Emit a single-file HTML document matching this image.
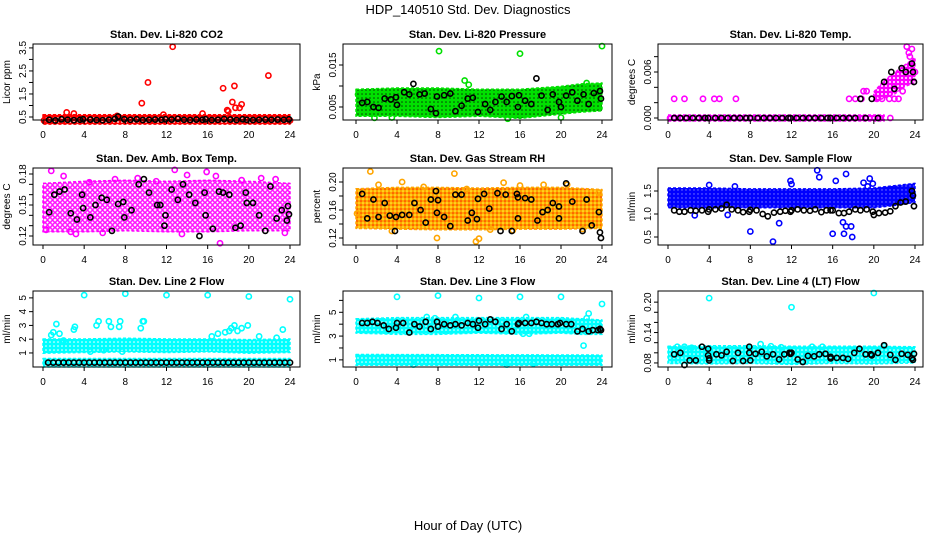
<!DOCTYPE html>
<html><head><meta charset="utf-8"><style>
body{margin:0;background:#fff}
svg{display:block;font-family:"Liberation Sans",Arial,sans-serif}
</style></head><body>
<svg id="c" width="936" height="540" viewBox="0 0 936 540">
<defs>
<pattern id="pat-co2" width="4" height="4" patternUnits="userSpaceOnUse"><rect width="4" height="4" fill="#ff0000"/><circle cx="2" cy="2" r="0.9" fill="#fff"/></pattern>
<pattern id="pat-pressure" width="4" height="4" patternUnits="userSpaceOnUse"><rect width="4" height="4" fill="#00e000"/><circle cx="2" cy="2" r="0.8" fill="#064006"/></pattern>
<pattern id="pat-li820-temp" width="4" height="4" patternUnits="userSpaceOnUse"><rect width="4" height="4" fill="#ff00ff"/><circle cx="2" cy="2" r="1" fill="#fff"/></pattern>
<pattern id="pat-amb-box-temp" width="5" height="5" patternUnits="userSpaceOnUse"><rect width="5" height="5" fill="#fff"/><circle cx="2.5" cy="2.5" r="1.8" fill="none" stroke="#ff00ff" stroke-width="1.4"/></pattern>
<pattern id="pat-gas-stream-rh" width="4" height="4" patternUnits="userSpaceOnUse"><rect width="4" height="4" fill="#ffa500"/><circle cx="1" cy="1" r="0.8" fill="#ff2000"/><circle cx="3" cy="3" r="0.8" fill="#ffff40"/></pattern>
<pattern id="pat-sample-flow" width="4" height="4" patternUnits="userSpaceOnUse"><rect width="4" height="4" fill="#0000ff"/><circle cx="2" cy="2" r="0.7" fill="#8080ff"/></pattern>
<pattern id="pat-line2-flow" width="4" height="4" patternUnits="userSpaceOnUse"><rect width="4" height="4" fill="#00ffff"/><circle cx="2" cy="2" r="0.8" fill="#fff"/></pattern>
<pattern id="pat-line3-flow" width="4" height="4" patternUnits="userSpaceOnUse"><rect width="4" height="4" fill="#00ffff"/><circle cx="2" cy="2" r="0.8" fill="#fff"/></pattern>
<pattern id="pat-line4-flow" width="4" height="4" patternUnits="userSpaceOnUse"><rect width="4" height="4" fill="#00ffff"/><circle cx="2" cy="2" r="0.8" fill="#fff"/></pattern>
</defs>
<text x="468" y="14" text-anchor="middle" font-size="13">HDP_140510  Std. Dev. Diagnostics</text>
<text x="468" y="530" text-anchor="middle" font-size="13">Hour of Day (UTC)</text>
</svg>
<script>
const xTicks=[0,4,8,12,16,20,24];
// Panel 1: CO2
const co2BandX=[0,24], co2BandLo=[0.32,0.32], co2BandHi=[0.47,0.47];
const co2PtsX=[2.3,3,9.6,10.2,11.7,12.6,15.5,17.5,18.4,18.6,18.7,19.1,19.3,17.9,18,21.9,7.2,0.1,24];
const co2PtsY=[0.7,0.65,1.1,2.0,0.6,3.55,0.65,1.75,1.15,1.85,0.9,0.9,1.05,0.8,0.75,2.3,0.55,0.35,0.35];
const co2BlkX=[0.6,1.2,1.8,2.4,3,3.6,3.9,4.6,5.2,5.8,6.4,7,7.3,7.9,8.5,9.1,9.7,10.3,10.9,11.5,11.9,12.5,13.1,13.7,14.3,14.9,15.5,15.8,16.4,17,17.6,18.2,18.8,19.4,19.8,20.4,21,21.6,22.2,22.8,23.4,23.9];
const co2BlkY=[0.38,0.35,0.4,0.38,0.36,0.38,0.4,0.39,0.37,0.36,0.38,0.42,0.52,0.4,0.38,0.4,0.37,0.38,0.39,0.38,0.4,0.39,0.42,0.38,0.37,0.39,0.38,0.4,0.37,0.38,0.41,0.39,0.37,0.4,0.38,0.37,0.38,0.39,0.38,0.39,0.38,0.4];
// Panel 2: Pressure
const prBandX=[0,4,8,12,16,20,22,24], prBandLo=[0.0035,0.0035,0.0032,0.0035,0.003,0.004,0.0045,0.0048], prBandHi=[0.0085,0.0088,0.0088,0.0085,0.0085,0.0092,0.0098,0.0100];
const prPtsX=[8.1,16,24,10.6,11,22.5,1.8,3.5,20,14.8,0.2,23.6];
const prPtsY=[0.0183,0.0177,0.0195,0.0113,0.0103,0.0107,0.0024,0.0025,0.0025,0.0022,0.008,0.0052];
const prBlkX=[0.6,1.1,1.7,2.2,2.8,3.4,3.9,4,4.7,5.2,5.6,6.2,6.7,7.3,7.8,7.9,8.6,9.2,9.7,10.3,10.9,11.4,11.9,12.6,13.1,13.6,14.2,14.7,15.2,15.8,15.9,16.5,17.1,17.6,18.1,18.7,19.2,19.8,20,20.5,21.1,21.6,22.2,22.7,23.2,23.8,23.9];
const prBlkY=[0.006,0.0062,0.005,0.0048,0.007,0.0068,0.0073,0.0055,0.0085,0.008,0.0105,0.008,0.0082,0.0045,0.0035,0.0075,0.0078,0.0082,0.004,0.0053,0.007,0.0072,0.0038,0.0057,0.0043,0.0062,0.0075,0.0062,0.0076,0.005,0.0078,0.0065,0.0057,0.0118,0.0077,0.0043,0.008,0.0062,0.005,0.0077,0.0085,0.0065,0.008,0.0057,0.0083,0.0088,0.007];
// Panel 3: Li-820 Temp
const tBandX=[20,21,22,23,24], tBandLo=[0.0025,0.003,0.0035,0.0045,0.005], tBandHi=[0.003,0.0045,0.0055,0.0065,0.0075];
const tPtsX=[0.6,1.6,3.4,4.5,5,6.6,17.6,18.2,18.8,19,19.3,20.3,20.8,21.5,22,22.4,22.8,23.2,23.4,23.7,23.5,24,21.6,0.2,5,10,15,20.6];
const tPtsY=[0.0025,0.0025,0.0025,0.0025,0.0025,0.0025,0.0025,0.0025,0.0025,0.0035,0.0035,0.0025,0.0025,0.0025,0.0025,0.0025,0.0035,0.0093,0.0085,0.009,0.008,0.006,0,0,0,0,0,0];
const tBlkX=[0.6,1.2,1.8,2.4,3,3.6,3.9,4.6,5.2,5.8,6.4,7,7.6,8,8.7,9.3,9.9,10.5,11.1,11.7,11.9,12.5,13.1,13.7,14.3,14.9,15.5,15.8,16.4,17,17.6,18.2,18.7,19.2,19.8,20.4,21,21.7,22,22.7,23.1,23.7,23.8,23.9];
const tBlkY=[0,0,0,0,0,0,0,0,0,0,0,0,0,0,0,0,0,0,0,0,0,0,0,0,0,0,0,0,0,0,0,0,0.0025,0,0.0025,0,0.0047,0.006,0.0038,0.0065,0.006,0.0071,0.006,0.0047];
// Panel 4: Amb Box Temp
const abBandX=[0,4,8,12,16,20,24], abBandLo=[0.127,0.127,0.128,0.127,0.127,0.128,0.128], abBandHi=[0.168,0.17,0.171,0.17,0.171,0.17,0.168];
const abPtsX=[0.8,2.7,5.8,12.8,15.9,17.2,16.8,9.2,2,22.6,0.3,4.5,7,11,13.5,19.3,21.2,23.5,3.2,14];
const abPtsY=[0.183,0.124,0.123,0.184,0.182,0.113,0.178,0.176,0.178,0.175,0.126,0.172,0.175,0.173,0.122,0.174,0.176,0.123,0.122,0.179];
const abBlkX=[0.6,1.1,1.6,2.1,2.7,3.3,3.8,3.9,4.6,5.1,5.7,6.2,6.7,7.3,7.8,7.9,8.6,9.3,9.8,10.3,11.1,11.4,11.8,11.9,12.5,13.1,13.6,14.2,14.8,15.2,15.7,15.8,16.5,17.1,17.5,18.1,18.7,19.2,19.7,19.8,20.4,21,21.6,22.1,22.7,23.2,23.7,23.8,23.9];
const abBlkY=[0.143,0.16,0.163,0.165,0.142,0.136,0.16,0.147,0.138,0.15,0.157,0.155,0.125,0.151,0.153,0.138,0.145,0.17,0.175,0.162,0.15,0.15,0.13,0.14,0.165,0.155,0.17,0.16,0.152,0.12,0.162,0.14,0.127,0.163,0.162,0.16,0.128,0.13,0.162,0.152,0.152,0.14,0.125,0.168,0.137,0.145,0.135,0.149,0.141];
// Panel 5: Gas Stream RH
const rhBandX=[0,4,8,12,16,20,24], rhBandLo=[0.138,0.137,0.136,0.136,0.137,0.137,0.138], rhBandHi=[0.186,0.188,0.188,0.187,0.188,0.188,0.185];
const rhPtsX=[1.4,9.6,7.9,11.7,12,14.4,4.5,2.2,6.6,10.8,16,18.3,20.6,23.7,0.1,3.5,13.1,22.1,15.3];
const rhPtsY=[0.215,0.212,0.12,0.115,0.119,0.199,0.2,0.196,0.193,0.19,0.195,0.196,0.196,0.185,0.155,0.13,0.132,0.133,0.131];
const rhBlkX=[0.6,1.1,1.7,2.2,2.8,3.3,3.8,3.9,4.5,5.2,5.7,6.3,6.8,7.3,7.8,7.9,8,8.6,9.2,9.7,10.3,10.9,11.3,11.8,11.9,12.5,13,13.8,14.1,14.6,15.2,15.7,15.8,15.8,16.5,17.1,17.7,18.2,18.7,19.2,19.8,19.8,20.5,21.1,22.1,22.5,23,23.7,23.8,23.9];
const rhBlkY=[0.183,0.148,0.175,0.15,0.17,0.152,0.13,0.15,0.153,0.153,0.17,0.16,0.142,0.175,0.187,0.156,0.174,0.15,0.137,0.182,0.182,0.145,0.156,0.147,0.176,0.183,0.162,0.184,0.13,0.182,0.13,0.183,0.148,0.178,0.177,0.175,0.145,0.157,0.16,0.17,0.165,0.148,0.198,0.172,0.13,0.175,0.138,0.157,0.128,0.12];
// Panel 6: Sample Flow
const sfBandX=[0,4,8,12,16,20,22,24], sfBandLo=[1.2,1.2,1.2,1.2,1.2,1.2,1.25,1.32], sfBandHi=[1.5,1.5,1.48,1.48,1.48,1.5,1.55,1.6];
const sfPtsX=[14.5,14.7,17.3,19.6,16.3,11.9,4,8,10.2,10.8,16,17,17.3,17.1,17.8,17.9,2.6,5.8,12,19,19.4,19.9,6.5];
const sfPtsY=[1.95,1.8,1.87,1.77,1.72,1.72,1.63,0.62,0.4,0.8,0.57,0.82,0.73,0.57,0.73,0.5,0.97,0.98,1.65,1.68,1.6,1.66,1.6];
const sfBlkX=[0.6,1.1,1.6,2.2,2.7,3.3,3.9,4,4.6,5.2,5.7,6.2,6.8,7.3,7.9,8,8.6,9.2,9.7,10.3,10.9,11.4,11.9,12,12.6,13.2,13.8,14.3,14.9,15.4,15.8,16,16.6,17.1,17.6,18.2,18.7,19.3,19.9,20,20.5,21.1,21.6,22.1,22.6,23.1,23.7,23.8,23.9];
const sfBlkY=[1.08,1.05,1.05,1.08,1.07,1.08,1.05,1.1,1.1,1.12,1.2,1.1,1.08,1.04,1.05,1.09,1.08,1.0,0.95,1.03,1.05,1.07,1.05,1.08,1.1,1.08,1.07,1.1,1.04,1.08,1.08,1.08,1.02,1.02,1.05,1.1,1.08,1.1,1.05,0.98,1.02,1.03,1.06,1.17,1.25,1.27,1.5,1.4,1.17];
// Panel 7: Line 2 Flow
const l2BandX=[0,4,8,12,16,20,24], l2BandLo=[1.2,1.25,1.3,1.25,1.3,1.2,1.25], l2BandHi=[1.8,1.8,1.85,1.8,1.8,1.75,1.8];
const l2Band2X=[0,24], l2Band2Lo=[0.2,0.2], l2Band2Hi=[0.38,0.38];
const l2PtsX=[4,8,12,16,20,24,0.8,1,1.3,1.6,3,3.1,5.2,5.4,6.4,6.6,7.4,7.5,9.5,9.7,9.8,16.4,17,17.7,18.1,18.3,18.6,18.9,19.3,19.9,21,22.7,23.3,2,5.9,7.7,4.6];
const l2PtsY=[5.2,5.3,5.2,5.2,5.1,4.9,2.3,2.5,3.1,2.4,2.7,2.9,3,3.3,3.3,2.9,2.9,3.3,2.8,3.3,3.3,2.2,2.4,2.5,2.6,2.8,3,2.6,2.8,3,2.2,2.1,2.7,1.9,1.2,1.1,1.1];
const l2BlkX=[0.5,1,1.5,2,2.5,3,3.5,4,4.5,5,5.5,6,6.5,7,7.5,8,8.5,9,9.5,10,10.5,11,11.5,12,12.5,13,13.5,14,14.5,15,15.5,16,16.5,17,17.5,18,18.5,19,19.5,20,20.5,21,21.5,22,22.5,23,23.5,24];
const l2BlkY=[0.3,0.3,0.3,0.3,0.3,0.3,0.3,0.3,0.3,0.3,0.3,0.3,0.3,0.3,0.3,0.3,0.3,0.3,0.3,0.3,0.3,0.3,0.3,0.3,0.3,0.3,0.3,0.3,0.3,0.3,0.3,0.3,0.3,0.3,0.3,0.3,0.3,0.3,0.3,0.3,0.3,0.3,0.3,0.3,0.3,0.3,0.3,0.3];
// Panel 8: Line 3 Flow
const l3BandX=[0,4,8,12,16,20,22,24], l3BandLo=[3.5,3.4,3.4,3.5,3.4,3.5,3.4,3.4], l3BandHi=[4.2,4.3,4.3,4.3,4.3,4.3,4.2,4.1];
const l3Band2X=[0,24], l3Band2Lo=[0.8,0.8], l3Band2Hi=[1.2,1.15];
const l3PtsX=[4,8,12,16,20,24,22.2,22.5,22.7,6.9,7.7,9.7,16.6,16.9,16.3,5.6,14.7,17.3];
const l3PtsY=[6.3,6.4,6.2,6.3,6.3,5.7,2.2,4.5,4.9,4.6,4.5,4.6,4.6,3.2,3.2,0.6,0.6,0.7];
const l3BlkX=[0.6,1.1,1.6,2.1,2.7,3.2,3.9,4,4.6,5.2,5.7,6.2,6.8,7.3,7.9,8,8.6,9.2,9.7,10.3,10.9,11.4,11.9,12,12.6,13.1,13.6,14.2,14.7,15.2,15.8,15.9,16.5,17.1,17.6,18.1,18.6,19.1,19.7,19.9,20.5,21,21.6,22.1,22.7,23.1,23.6,23.8,23.9];
const l3BlkY=[4.1,4.1,4.2,4.1,3.9,3.6,3.7,4.1,4.1,3.3,4,3.8,4.2,3.6,4.2,3.8,4,3.9,4,3.9,4.1,4,3.7,4.3,4,4.4,4.2,3.6,4,3.4,4,4.1,4.1,4.1,4.2,4.1,4,4,4,4.1,4,4,3.4,3.6,3.4,3.5,3.5,3.6,3.5];
// Panel 9: Line 4 (LT) Flow
const l4BandX=[0,4,8,12,16,20,24], l4BandLo=[0.085,0.084,0.085,0.083,0.085,0.084,0.086], l4BandHi=[0.107,0.108,0.108,0.107,0.107,0.107,0.106];
const l4PtsX=[4,12,20,0.9,1.6,2.3,9,10,11,14,15,21];
const l4PtsY=[0.208,0.19,0.218,0.112,0.112,0.11,0.117,0.113,0.111,0.112,0.112,0.113];
const l4BlkX=[0.6,1.2,1.6,2.1,2.7,3.3,3.9,3.9,4,4,4.7,5.2,5.7,6.3,6.8,7.3,7.9,7.9,8,8.5,9.1,9.6,10.2,10.8,11.3,11.8,11.9,12,12.6,13.1,13.6,14.2,14.7,15.3,15.8,15.8,16.4,17,17.5,18.1,18.6,19.2,19.7,19.8,20.4,21,21.6,22.1,22.7,23.3,23.7,23.8,23.9];
const l4BlkY=[0.097,0.1,0.076,0.085,0.085,0.112,0.108,0.095,0.089,0.085,0.097,0.095,0.102,0.084,0.1,0.084,0.112,0.1,0.085,0.098,0.102,0.093,0.097,0.087,0.097,0.1,0.098,0.1,0.087,0.082,0.094,0.093,0.097,0.098,0.092,0.089,0.09,0.09,0.088,0.1,0.108,0.097,0.097,0.095,0.1,0.115,0.096,0.086,0.098,0.096,0.089,0.086,0.098];

const cols=[{bx0:33,bx1:300,x0:43,x24:290},{bx0:343,bx1:612,x0:356,x24:602},{bx0:658,bx1:923,x0:668,x24:915}];
const rows=[{by0:44,by1:120},{by0:168,by1:245},{by0:291,by1:367}];

const panels=[
 {name:'co2',title:'Stan. Dev. Li-820 CO2',ylab:'Licor ppm',col:'#ff0000',dom:[0.37,3.67],ticks:[0.5,1,1.5,2,2.5,3,3.5],labs:['0.5','1.5','2.5','3.5'],labVals:[0.5,1.5,2.5,3.5],bands:[[co2BandX,co2BandLo,co2BandHi]],px:co2PtsX,py:co2PtsY,kx:co2BlkX,ky:co2BlkY},
 {name:'pressure',title:'Stan. Dev. Li-820 Pressure',ylab:'kPa',col:'#00e000',dom:[0.0019,0.0200],ticks:[0.005,0.01,0.015],labs:['0.005','0.015'],labVals:[0.005,0.015],bands:[[prBandX,prBandLo,prBandHi]],px:prPtsX,py:prPtsY,kx:prBlkX,ky:prBlkY},
 {name:'li820-temp',title:'Stan. Dev. Li-820 Temp.',ylab:'degrees C',col:'#ff00ff',dom:[-0.00026,0.00965],ticks:[0,0.002,0.004,0.006,0.008],labs:['0.000','0.006'],labVals:[0,0.006],bands:[[tBandX,tBandLo,tBandHi],[[0,21],[0,0],[0,0]]],px:tPtsX,py:tPtsY,kx:tBlkX,ky:tBlkY},
 {name:'amb-box-temp',title:'Stan. Dev. Amb. Box Temp.',ylab:'degrees C',col:'#ff00ff',dom:[0.1113,0.1858],ticks:[0.12,0.13,0.14,0.15,0.16,0.17,0.18],labs:['0.12','0.15','0.18'],labVals:[0.12,0.15,0.18],bands:[[abBandX,abBandLo,abBandHi]],px:abPtsX,py:abPtsY,kx:abBlkX,ky:abBlkY},
 {name:'gas-stream-rh',title:'Stan. Dev. Gas Stream RH',ylab:'percent',col:'#ffa500',dom:[0.11,0.22],ticks:[0.12,0.14,0.16,0.18,0.2],labs:['0.12','0.16','0.20'],labVals:[0.12,0.16,0.2],bands:[[rhBandX,rhBandLo,rhBandHi]],px:rhPtsX,py:rhPtsY,kx:rhBlkX,ky:rhBlkY},
 {name:'sample-flow',title:'Stan. Dev. Sample Flow',ylab:'ml/min',col:'#0000ff',dom:[0.326,2.0],ticks:[0.5,1,1.5],labs:['0.5','1.0','1.5'],labVals:[0.5,1,1.5],bands:[[sfBandX,sfBandLo,sfBandHi]],px:sfPtsX,py:sfPtsY,kx:sfBlkX,ky:sfBlkY},
 {name:'line2-flow',title:'Stan. Dev. Line 2 Flow',ylab:'ml/min',col:'#00ffff',dom:[-0.02,5.5],ticks:[1,2,3,4,5],labs:['1','2','3','4','5'],labVals:[1,2,3,4,5],bands:[[l2BandX,l2BandLo,l2BandHi],[l2Band2X,l2Band2Lo,l2Band2Hi]],px:l2PtsX,py:l2PtsY,kx:l2BlkX,ky:l2BlkY},
 {name:'line3-flow',title:'Stan. Dev. Line 3 Flow',ylab:'ml/min',col:'#00ffff',dom:[0.4,6.79],ticks:[1,2,3,4,5,6],labs:['1','3','5'],labVals:[1,3,5],bands:[[l3BandX,l3BandLo,l3BandHi],[l3Band2X,l3Band2Lo,l3Band2Hi]],px:l3PtsX,py:l3PtsY,kx:l3BlkX,ky:l3BlkY},
 {name:'line4-flow',title:'Stan. Dev. Line 4 (LT) Flow',ylab:'ml/min',col:'#00ffff',dom:[0.072,0.222],ticks:[0.08,0.1,0.12,0.14,0.16,0.18,0.2],labs:['0.08','0.14','0.20'],labVals:[0.08,0.14,0.2],bands:[[l4BandX,l4BandLo,l4BandHi]],px:l4PtsX,py:l4PtsY,kx:l4BlkX,ky:l4BlkY}
];

const NS='http://www.w3.org/2000/svg';
const svg=document.getElementById('c');
function mk(tag,attrs,parent){const e=document.createElementNS(NS,tag);for(const k in attrs)e.setAttribute(k,attrs[k]);(parent||svg).appendChild(e);return e;}

panels.forEach((p,i)=>{
 const c=cols[i%3], r=rows[Math.floor(i/3)];
 const xs=v=>c.x0+(c.x24-c.x0)*v/24;
 const ys=v=>r.by1-(r.by1-r.by0)*(v-p.dom[0])/(p.dom[1]-p.dom[0]);
 const g=mk('g',{});
 
 
 const cx=(c.bx0+c.bx1)/2;
 const t=mk('text',{x:cx,y:r.by0-6,'text-anchor':'middle','font-size':'11','font-weight':'bold'},g);
 t.textContent=p.title;
 
 
 const yl=mk('text',{x:0,y:0,'text-anchor':'middle','font-size':'10',transform:`translate(${c.bx0-23},${(r.by0+r.by1)/2}) rotate(-90)`},g);
 yl.textContent=p.ylab;
 
 
 p.bands.forEach(b=>{
  const [bx,lo,hi]=b;
  let d='';
  bx.forEach((x,k)=>{d+=(k?'L':'M')+xs(x)+','+(ys(hi[k])-3);});
  for(let k=bx.length-1;k>=0;k--)d+='L'+xs(bx[k])+','+(ys(lo[k])+3);
  d+='Z';
  const pa=mk('path',{d:d,fill:'url(#pat-'+p.name+')',stroke:p.col,'stroke-width':'1.5','stroke-dasharray':'3 2','stroke-linejoin':'round'},g);
  
  
 });
 p.px.forEach((x,k)=>{
  const ci=mk('circle',{cx:xs(x),cy:ys(p.py[k]),r:2.6,fill:'none',stroke:p.col,'stroke-width':'1.6'},g);
  
  
 });
 p.kx.forEach((x,k)=>{
  const ci=mk('circle',{cx:xs(x),cy:ys(p.ky[k]),r:2.6,fill:'none',stroke:'#000','stroke-width':'1.6'},g);
  
  
 });
 const bx=mk('rect',{x:c.bx0,y:r.by0,width:c.bx1-c.bx0,height:r.by1-r.by0,fill:'none',stroke:'#000','stroke-width':'1'},g);
 
 
 xTicks.forEach(v=>{
  mk('line',{x1:xs(v),x2:xs(v),y1:r.by1,y2:r.by1+4,stroke:'#000'},g);
  const tx=mk('text',{x:xs(v),y:r.by1+18,'text-anchor':'middle','font-size':'10'},g);
  tx.textContent=v;
  
  
 });
 p.ticks.forEach(v=>{mk('line',{x1:c.bx0,x2:c.bx0-4,y1:ys(v),y2:ys(v),stroke:'#000'},g);});
 p.labVals.forEach((v,k)=>{
  const tx=mk('text',{x:0,y:0,'text-anchor':'middle','font-size':'10',transform:`translate(${c.bx0-7},${ys(v)}) rotate(-90)`},g);
  tx.textContent=p.labs[k];
  
  
 });
});
</script>
</body></html>
